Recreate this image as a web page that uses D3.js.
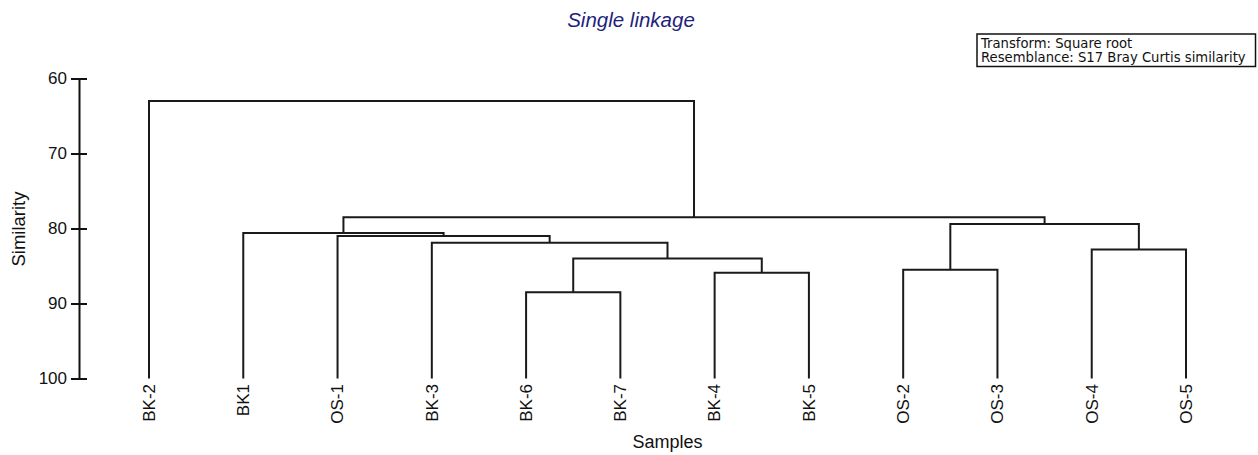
<!DOCTYPE html>
<html>
<head>
<meta charset="utf-8">
<script src="https://cdn.jsdelivr.net/npm/d3@7"></script>
<style>
  html, body { margin: 0; padding: 0; background: #fff; }
  svg { display: block; font-family: "Liberation Sans", Arial, sans-serif; }
</style>
</head>
<body>
<svg id="chart" width="1258" height="455"></svg>
<script>
// Samples in dendrogram leaf order
const samples = ["BK-2", "BK1", "OS-1", "BK-3", "BK-6", "BK-7", "BK-4", "BK-5", "OS-2", "OS-3", "OS-4", "OS-5"];

// Agglomeration steps: [left, right, similarity]
// indices 0..11 are samples, 12+ refer to earlier steps in this list
const mergeLeft  = [4, 6, 8, 12, 10, 3, 2, 1, 14, 19, 0];
const mergeRight = [5, 7, 9, 13, 11, 15, 17, 18, 16, 20, 21];
const mergeSim   = [88.5, 85.9, 85.5, 84.0, 82.8, 81.9, 81.0, 80.6, 79.4, 78.5, 63.0];

const yTicks = [60, 70, 80, 90, 100];
const titleText = "Single linkage";
const xTitle = "Samples";
const yTitle = "Similarity";
const noteLines = ["Transform: Square root", "Resemblance: S17 Bray Curtis similarity"];

const svg = d3.select("#chart");

const x = d3.scalePoint().domain(samples).range([149, 1186]).padding(0);
const y = d3.scaleLinear().domain([60, 100]).range([78.5, 378.5]);

// Node positions: leaves first, then each merge centred over its children
const nodeX = samples.map(s => x(s));
const nodeS = samples.map(() => 100);
mergeSim.forEach((s, i) => {
  nodeX.push((nodeX[mergeLeft[i]] + nodeX[mergeRight[i]]) / 2);
  nodeS.push(s);
});

const links = svg.append("g")
  .attr("fill", "none")
  .attr("stroke", "#1a1a1a")
  .attr("stroke-width", 2);

mergeSim.forEach((s, i) => {
  const a = mergeLeft[i], b = mergeRight[i];
  const p = d3.path();
  p.moveTo(nodeX[a], y(nodeS[a]));
  p.lineTo(nodeX[a], y(s));
  p.lineTo(nodeX[b], y(s));
  p.lineTo(nodeX[b], y(nodeS[b]));
  links.append("path").attr("d", p.toString());
});

// Similarity axis with ticks crossing the axis line
const axis = svg.append("g")
  .attr("transform", "translate(79,0)")
  .call(d3.axisLeft(y).tickValues(yTicks).tickSizeInner(8).tickSizeOuter(0).tickPadding(4));
axis.select(".domain").attr("stroke", "#111").attr("stroke-width", 2);
axis.selectAll(".tick line").attr("x1", 8).attr("x2", -8).attr("stroke", "#111").attr("stroke-width", 2);
axis.selectAll(".tick text")
  .attr("font-family", "'Liberation Sans', Arial, sans-serif")
  .attr("font-size", 17).attr("fill", "#111");

// Leaf labels
svg.append("g").selectAll("text")
  .data(samples)
  .join("text")
  .attr("transform", d => `translate(${x(d)},384) rotate(-90)`)
  .attr("text-anchor", "end")
  .attr("dy", "0.34em")
  .attr("font-size", 17)
  .attr("fill", "#111")
  .text(d => d);

// Axis titles
svg.append("text")
  .attr("x", (x(samples[0]) + x(samples[samples.length - 1])) / 2)
  .attr("y", 448)
  .attr("text-anchor", "middle")
  .attr("font-size", 18)
  .attr("fill", "#111")
  .text(xTitle);

svg.append("text")
  .attr("transform", "translate(24.5,229) rotate(-90)")
  .attr("text-anchor", "middle")
  .attr("font-size", 18.5)
  .attr("fill", "#111")
  .text(yTitle);

// Title
svg.append("text")
  .attr("x", 631)
  .attr("y", 26.5)
  .attr("text-anchor", "middle")
  .attr("font-size", 20.5)
  .attr("font-style", "italic")
  .attr("fill", "#1f1f7d")
  .text(titleText);

// Note box
const note = svg.append("g");
note.append("rect")
  .attr("x", 977).attr("y", 34).attr("width", 278.5).attr("height", 32.5)
  .attr("fill", "#fff").attr("stroke", "#111").attr("stroke-width", 1.5);
note.selectAll("text")
  .data(noteLines)
  .join("text")
  .attr("x", 981)
  .attr("y", (d, i) => 47.5 + i * 14.5)
  .attr("font-family", "'DejaVu Sans', Verdana, sans-serif")
  .attr("font-size", 13.2)
  .attr("fill", "#111")
  .text(d => d);
</script>
</body>
</html>
